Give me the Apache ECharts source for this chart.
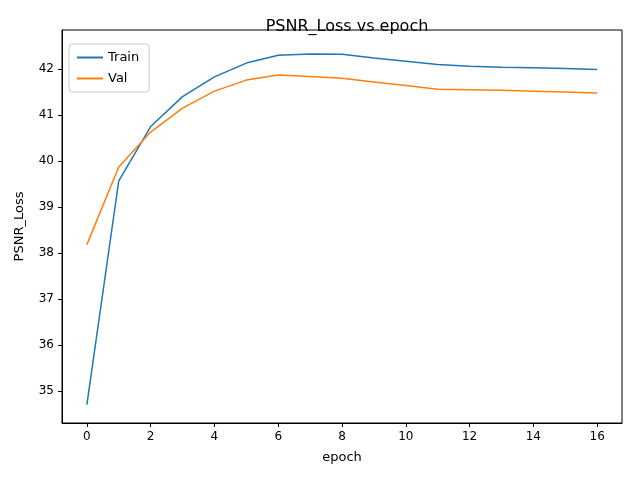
<!DOCTYPE html>
<html>
<head>
<meta charset="utf-8">
<script src="https://cdn.jsdelivr.net/npm/echarts@6/dist/echarts.min.js"></script>
<style>html,body{margin:0;padding:0;background:#fff}#chart{width:640px;height:480px}</style>
</head>
<body>
<div id="chart"></div>
<script>
const epochs = [0, 1, 2, 3, 4, 5, 6, 7, 8, 9, 10, 11, 12, 13, 14, 15, 16];
const trainLoss = [34.7, 39.57, 40.75, 41.4, 41.83, 42.13, 42.3, 42.33, 42.32, 42.24, 42.17, 42.1, 42.06, 42.04, 42.03, 42.01, 41.99];
const valLoss = [38.18, 39.87, 40.63, 41.15, 41.52, 41.76, 41.87, 41.84, 41.8, 41.72, 41.64, 41.56, 41.55, 41.54, 41.52, 41.5, 41.48];
const xTicks = [0, 2, 4, 6, 8, 10, 12, 14, 16];
const yTicks = [35, 36, 37, 38, 39, 40, 41, 42];

const chart = echarts.init(document.getElementById('chart'));
const font = 'DejaVu Sans';
chart.setOption({
  animation: false,
  textStyle: { fontFamily: font },
  title: {
    text: 'PSNR_Loss vs epoch', left: 342, top: 14, textAlign: 'center',
    textStyle: { fontSize: 16, fontWeight: 'normal', color: '#000', fontFamily: font }
  },
  legend: {
    left: 69, top: 44, orient: 'vertical', itemWidth: 26, itemHeight: 2, itemGap: 8,
    borderColor: '#ccc', borderWidth: 1, borderRadius: 3, padding: [7, 10, 7, 8],
    textStyle: { fontSize: 13, color: '#000', fontFamily: font },
    icon: 'rect',
    data: ['Train', 'Val']
  },
  grid: { left: 62, right: 18, top: 30, bottom: 57, show: true, borderColor: '#000', borderWidth: 1 },
  xAxis: {
    type: 'value', min: -0.78, max: 16.78,
    name: 'epoch', nameLocation: 'middle', nameGap: 28,
    nameTextStyle: { fontSize: 13, color: '#000' },
    axisLine: { show: true, onZero: false, lineStyle: { color: '#000' } },
    axisTick: { show: true, customValues: xTicks, length: 4, lineStyle: { color: '#000' } },
    axisLabel: { customValues: xTicks, color: '#000', fontSize: 12, margin: 8 },
    splitLine: { show: false }
  },
  yAxis: {
    type: 'value', min: 34.3, max: 42.85,
    name: 'PSNR_Loss', nameLocation: 'middle', nameGap: 36,
    nameTextStyle: { fontSize: 13, color: '#000' },
    axisLine: { show: true, onZero: false, lineStyle: { color: '#000' } },
    axisTick: { show: true, customValues: yTicks, length: 4, lineStyle: { color: '#000' } },
    axisLabel: { customValues: yTicks, color: '#000', fontSize: 12, margin: 8 },
    splitLine: { show: false }
  },
  series: [
    { name: 'Train', type: 'line', data: epochs.map((e, i) => [e, trainLoss[i]]), showSymbol: false, color: '#1f77b4', lineStyle: { width: 1.5 } },
    { name: 'Val', type: 'line', data: epochs.map((e, i) => [e, valLoss[i]]), showSymbol: false, color: '#ff7f0e', lineStyle: { width: 1.5 } }
  ]
});
</script>
</body>
</html>
